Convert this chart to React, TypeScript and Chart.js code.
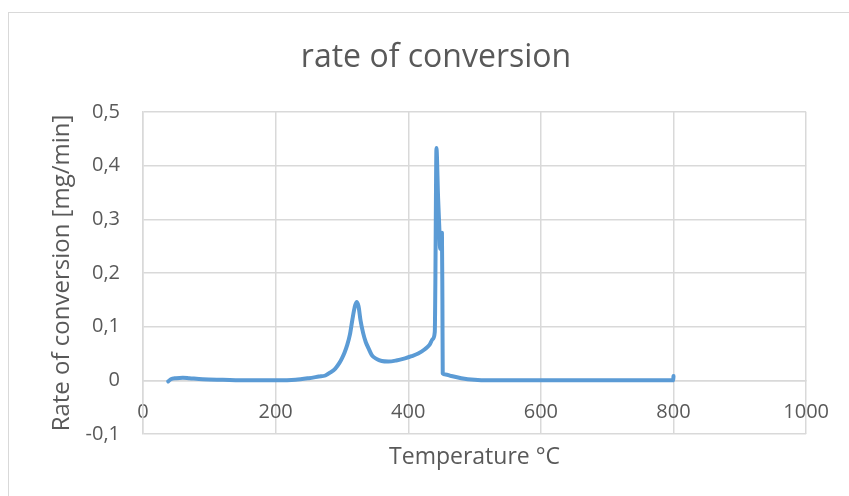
import React, { useEffect, useRef } from "react";
import { Chart, registerables } from "chart.js";

Chart.register(...registerables);

const temperature: number[] = [
  38, 42, 50, 60, 70, 90, 120, 160, 200, 230,
  250, 265, 275, 283, 290, 296, 300, 304, 308, 312,
  316, 319, 322, 325, 328, 332, 336, 340, 345, 352,
  360, 370, 382, 395, 405, 415, 425, 432, 437, 440,
  441, 441.8, 442.5, 445, 447, 448, 449.5, 450.8, 451.5, 452,
  456, 465, 480, 500, 520, 600, 700, 799.5, 800,
];
const rate: number[] = [
  -0.002, 0.002, 0.004, 0.005, 0.004, 0.002, 0.001, 0, 0, 0.001,
  0.004, 0.007, 0.009, 0.015, 0.022, 0.032, 0.041, 0.052, 0.066, 0.085,
  0.115, 0.135, 0.146, 0.138, 0.112, 0.088, 0.071, 0.06, 0.047, 0.04,
  0.036, 0.035, 0.037, 0.041, 0.045, 0.05, 0.058, 0.066, 0.077, 0.09,
  0.2, 0.35, 0.433, 0.34, 0.28, 0.245, 0.265, 0.275, 0.15, 0.013,
  0.011, 0.008, 0.004, 0.001, 0, 0, 0, 0, 0.008,
];
const yTickValues: number[] = [-0.1, 0, 0.1, 0.2, 0.3, 0.4, 0.5];
const yTickLabels: string[] = ["-0,1", "0", "0,1", "0,2", "0,3", "0,4", "0,5"];
const xTickValues: number[] = [0, 200, 400, 600, 800, 1000];
const xTickLabels: string[] = ["0", "200", "400", "600", "800", "1000"];

const TEXT = "#595959";
const GRID = "#d9d9d9";
const FONT = "'Open Sans', sans-serif";

export default function App() {
  const ref = useRef<HTMLCanvasElement | null>(null);
  useEffect(() => {
    if (!ref.current) return;
    const points = temperature.map((t, i) => ({ x: t, y: rate[i] }));
    const findLabel = (vals: number[], labels: string[], v: number) => {
      const i = vals.findIndex((a) => Math.abs(a - v) < 1e-6);
      return i >= 0 ? labels[i] : "";
    };
    const chart = new Chart(ref.current, {
      type: "line",
      data: {
        datasets: [
          {
            data: points,
            borderColor: "#5b9bd5",
            backgroundColor: "#5b9bd5",
            borderWidth: 4,
            pointRadius: 0,
            cubicInterpolationMode: "monotone",
            borderCapStyle: "round",
            borderJoinStyle: "round",
            fill: false,
          },
        ],
      },
      options: {
        animation: false,
        responsive: false,
        maintainAspectRatio: false,
        layout: { padding: { left: 62, right: 39, top: 0, bottom: 0 } },
        plugins: {
          legend: { display: false },
          tooltip: { enabled: false },
          title: {
            display: true,
            text: "rate of conversion",
            color: TEXT,
            font: { family: FONT, size: 32, weight: "normal", lineHeight: 1.2 },
            padding: { top: 39, bottom: 34.6 },
          },
        },
        scales: {
          x: {
            type: "linear",
            position: { y: 0 } as any,
            min: 0,
            max: 1000,
            afterBuildTicks: (scale: any) => {
              scale.ticks = xTickValues.map((v) => ({ value: v }));
            },
            ticks: {
              color: TEXT,
              font: { family: FONT, size: 20 },
              padding: 20,
              maxRotation: 0,
              autoSkip: false,
              callback: (v: any) => findLabel(xTickValues, xTickLabels, Number(v)),
            },
            grid: { color: GRID, lineWidth: 1.5, drawTicks: false },
            border: { color: GRID, width: 1.5 },
          },
          xt: {
            type: "linear",
            position: "bottom",
            min: 0,
            max: 1000,
            ticks: { display: false },
            grid: { display: false, drawTicks: false },
            border: { display: false },
            title: {
              display: true,
              text: "Temperature °C",
              color: TEXT,
              font: { family: FONT, size: 23, lineHeight: 1.2 },
              padding: { top: 0, bottom: 25 },
            },
            afterFit: (scale: any) => {
              scale.height = 62;
            },
          },
          y: {
            type: "linear",
            position: "left",
            min: -0.1,
            max: 0.5,
            afterBuildTicks: (scale: any) => {
              scale.ticks = yTickValues.map((v) => ({ value: v }));
            },
            ticks: {
              color: TEXT,
              font: { family: FONT, size: 20 },
              padding: 23,
              autoSkip: false,
              callback: (v: any) => findLabel(yTickValues, yTickLabels, Number(v)),
            },
            grid: { color: GRID, lineWidth: 1.5, drawTicks: false },
            border: { color: GRID, width: 1.5 },
            title: {
              display: true,
              text: "Rate of conversion [mg/min]",
              color: TEXT,
              font: { family: FONT, size: 24, lineHeight: 1.2 },
              padding: { top: -14.4, bottom: 0 },
            },
            afterFit: (scale: any) => {
              scale.width = 81;
            },
          },
        },
      } as any,
    });
    return () => chart.destroy();
  }, []);

  return (
    <div
      style={{
        position: "fixed",
        left: 0,
        top: 0,
        width: 849,
        height: 496,
        background: "#ffffff",
        overflow: "hidden",
      }}
    >
      <div
        style={{
          position: "absolute",
          left: 8,
          top: 12,
          width: 900,
          height: 600,
          border: `1.5px solid ${GRID}`,
          boxSizing: "border-box",
        }}
      />
      <canvas
        ref={ref}
        width={849}
        height={496}
        style={{ position: "absolute", left: 0, top: 0, width: 849, height: 496 }}
      />
    </div>
  );
}
